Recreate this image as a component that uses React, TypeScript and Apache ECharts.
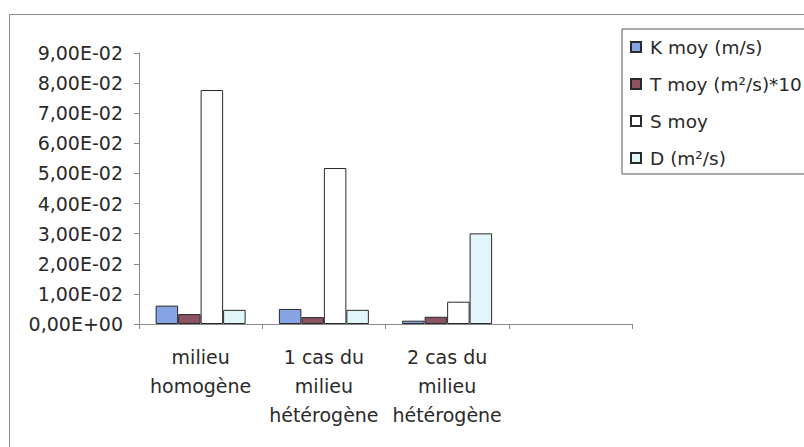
import React, { useEffect, useRef } from "react";
import * as echarts from "echarts";

const categories = ["milieu\nhomogène", "1 cas du\nmilieu\nhétérogène", "2 cas du\nmilieu\nhétérogène", ""];
const seriesNames = ["K moy (m/s)", "T moy (m²/s)*10", "S moy", "D (m²/s)"];
const kMoy = [0.0061, 0.005, 0.0011, null];
const tMoy = [0.0033, 0.0023, 0.0024, null];
const sMoy = [0.0777, 0.0518, 0.0074, null];
const dVals = [0.0047, 0.0047, 0.0301, null];
const colors = ["#86a3e4", "#8b5260", "#ffffff", "#e2f6f9"];
const yMin = 0;
const yMax = 0.09;
const yStep = 0.01;

const FONT = "DejaVu Sans";

function fmt(v: number): string {
  const [m, e] = v.toExponential(2).split("e");
  const n = parseInt(e, 10);
  const sign = n < 0 ? "-" : "+";
  return m.replace(".", ",") + "E" + sign + String(Math.abs(n)).padStart(2, "0");
}

export default function App() {
  const ref = useRef<HTMLDivElement>(null);
  useEffect(() => {
    document.body.style.margin = "0";
    if (!ref.current) return;
    const chart = echarts.init(ref.current, null, { renderer: "svg" });
    const allData = [kMoy, tMoy, sMoy, dVals];
    chart.setOption({
      animation: false,
      backgroundColor: "#ffffff",
      graphic: [
        {
          type: "rect",
          shape: { x: 9.5, y: 14.5, width: 900, height: 600 },
          style: { fill: "none", stroke: "#8a8a8a", lineWidth: 1 },
          silent: true,
        },
      ],
      grid: { left: 139, right: 172, top: 53, bottom: 123, containLabel: false },
      legend: {
        orient: "vertical",
        left: 622,
        top: 29,
        padding: [8, 10, 6, 8],
        itemGap: 17,
        itemWidth: 10,
        itemHeight: 10,
        icon: "rect",
        borderColor: "#555",
        borderWidth: 1,
        backgroundColor: "#fff",
        data: seriesNames,
        textStyle: {
          fontFamily: FONT,
          fontSize: 18.5,
          color: "#2a2a2a",
          lineHeight: 20,
          padding: [0, 0, 0, 4],
        },
      },
      xAxis: {
        type: "category",
        data: categories,
        axisLine: { lineStyle: { color: "#8a8a8a", width: 1 } },
        axisTick: { show: true, length: 5, lineStyle: { color: "#8a8a8a" } },
        axisLabel: {
          interval: 0,
          margin: 18,
          fontFamily: FONT,
          fontSize: 19,
          lineHeight: 29,
          color: "#2a2a2a",
          align: "center",
        },
      },
      yAxis: {
        type: "value",
        min: yMin,
        max: yMax,
        interval: yStep,
        splitLine: { show: false },
        axisLine: { show: true, lineStyle: { color: "#8a8a8a", width: 1 } },
        axisTick: { show: true, length: 5, lineStyle: { color: "#8a8a8a" } },
        axisLabel: {
          margin: 16,
          fontFamily: FONT,
          fontSize: 19,
          color: "#2a2a2a",
          formatter: (v: number) => fmt(v),
        },
      },
      series: seriesNames.map((name, i) => ({
        name,
        type: "bar",
        data: allData[i],
        barGap: "0%",
        barCategoryGap: "27%",
        itemStyle: { color: colors[i], borderColor: "#2a2a2a", borderWidth: 1 },
      })),
    });
    return () => chart.dispose();
  }, []);
  return <div ref={ref} style={{ width: 804, height: 447 }} />;
}
